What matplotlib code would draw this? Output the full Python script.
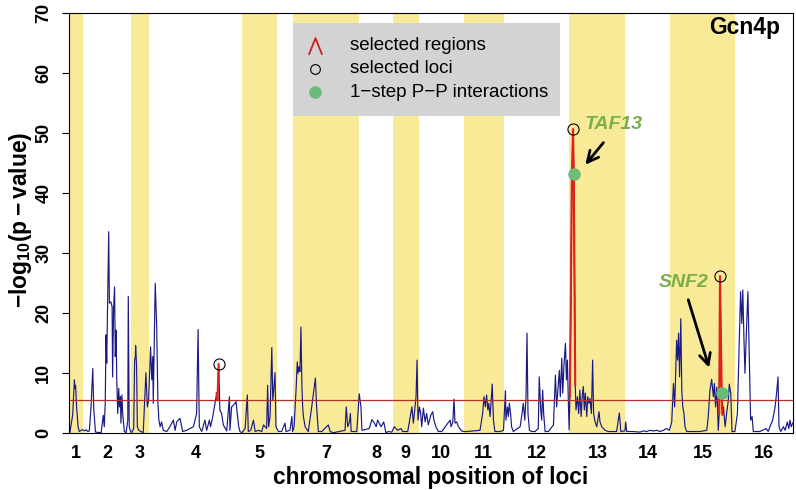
import matplotlib
matplotlib.use("Agg")
import matplotlib.pyplot as plt
from matplotlib.patches import Rectangle
import numpy as np

plt.rcParams['font.family'] = ['Liberation Sans', 'DejaVu Sans']
plt.rcParams['mathtext.fontset'] = 'custom'
plt.rcParams['mathtext.rm'] = 'Liberation Sans:bold'
plt.rcParams['mathtext.bf'] = 'Liberation Sans:bold'
plt.rcParams['mathtext.it'] = 'Liberation Sans:bold:italic'

# ---------------- data ----------------
chrom_ends = [57, 253, 327, 706, 849, 915, 1184, 1322, 1428, 1612, 1775, 2043, 2272, 2455, 2721, 2956]
chrom_labels = ['1', '2', '3', '4', '5', '', '7', '8', '9', '10', '11', '12', '13', '14', '15', '16']

chr1 = [(0, 0.2), (4, 0.1), (15, 3.0), (22, 8.8), (24, 7.4), (27, 7.9), (31, 4.3), (37, 1.0), (42, 0.2), (49, 0.4), (56, 0.5)]
chr2 = [(63, 0.3), (70, 0.5), (76, 0.2), (83, 0.3), (90, 4.3), (97, 10.7), (101, 4.0), (108, 0.1), (131, 0.0),
        (140, 2.9), (144, 1.0), (148, 5.0), (151, 16.3), (154, 11.6), (158, 22.7), (162, 33.5), (165, 21.6),
        (171, 21.8), (176, 21.0), (178, 9.3), (182, 20.7), (186, 24.3), (189, 12.7), (192, 17.1), (195, 8.8),
        (199, 3.2), (203, 7.4), (206, 4.3), (210, 6.0), (212, 1.6), (216, 6.3), (219, 3.2), (226, 0.2),
        (233, 0.0), (240, 2.1), (242, 22.7), (246, 1.0), (252, 0.1)]
chr3 = [(257, 0.1), (264, 0.7), (268, 12.1), (271, 12.7), (272, 14.5), (276, 11.0), (279, 1.0), (285, 0.4),
        (303, 0.0), (314, 10.0), (320, 4.3), (325, 5.4)]
chr4 = [(333, 14.3), (338, 8.8), (342, 12.7), (344, 4.9), (348, 15.4), (352, 24.9), (358, 17.7), (363, 4.9),
        (367, 2.1), (372, 1.0), (378, 1.8), (385, 0.4), (399, 0.2), (412, 1.0), (426, 2.1), (433, 0.4),
        (440, 1.8), (453, 2.4), (464, 0.2), (480, 0.4), (508, 1.0), (521, 3.2), (527, 17.2), (532, 1.0),
        (542, 0.2), (555, 2.1), (562, 0.4), (573, 2.1), (578, 1.0), (587, 2.7), (596, 4.9), (603, 6.6),
        (606, 5.4), (611, 11.4), (616, 3.8), (623, 3.2), (630, 1.3), (644, 0.3), (655, 6.0), (657, 0.4),
        (664, 4.3), (671, 4.6), (678, 4.9), (682, 5.2), (687, 3.2), (693, 1.0), (698, 0.2)]
chr5 = [(706, 0.0), (719, 0.7), (728, 6.3), (732, 0.2), (742, 0.4), (753, 2.1), (760, 0.2), (773, 0.4),
        (787, 0.2), (794, 1.3), (807, 0.7), (811, 7.9), (815, 1.0), (821, 2.7), (828, 14.2), (832, 5.4),
        (837, 7.7), (841, 10.0), (845, 1.0)]
chr6 = [(855, 0.2), (868, 0.2), (882, 1.6), (886, 0.2), (902, 0.4), (910, 2.7), (913, 0.2)]
chr7 = [(919, 1.0), (927, 7.1), (932, 11.8), (935, 9.9), (939, 11.0), (943, 10.2), (947, 17.6), (951, 7.7),
        (954, 4.3), (957, 2.7), (964, 1.0), (977, 0.2), (991, 4.3), (998, 6.6), (1006, 9.1), (1011, 4.3),
        (1018, 0.2), (1032, 0.2), (1059, 1.3), (1066, 0.2), (1079, 0.0), (1127, 0.4), (1132, 4.3),
        (1138, 1.0), (1145, 1.8), (1149, 3.2), (1152, 0.2), (1175, 0.2)]
chr8 = [(1185, 6.5), (1192, 4.3), (1196, 0.4), (1226, 0.7), (1237, 2.2), (1247, 1.6), (1254, 1.0),
        (1260, 2.1), (1274, 1.0), (1285, 1.8), (1294, 0.0), (1304, 0.2), (1318, 0.1)]
chr9 = [(1328, 1.0), (1342, 0.4), (1356, 0.7), (1362, 0.2), (1383, 0.2), (1400, 4.3), (1406, 1.6),
        (1417, 6.0), (1421, 12.1), (1425, 2.1)]
chr10 = [(1431, 4.3), (1436, 3.2), (1440, 1.0), (1447, 4.1), (1454, 1.8), (1460, 3.2), (1467, 1.3),
         (1477, 2.9), (1485, 3.5), (1490, 2.1), (1498, 1.0), (1508, 0.2), (1522, 0.2), (1556, 2.1),
         (1560, 1.0), (1567, 1.8), (1572, 5.6), (1576, 1.6), (1583, 1.8), (1590, 1.0), (1603, 0.3), (1610, 0.2)]
chr11 = [(1624, 0.2), (1678, 0.4), (1689, 3.2), (1694, 6.0), (1700, 4.3), (1705, 6.3), (1710, 3.8),
         (1714, 4.9), (1719, 2.7), (1724, 5.4), (1728, 8.1), (1733, 2.1), (1739, 0.2), (1760, 0.2), (1774, 0.4)]
chr12 = [(1782, 7.0), (1784, 2.1), (1790, 4.3), (1794, 2.7), (1798, 4.9), (1803, 3.2), (1807, 1.0),
         (1814, 0.2), (1842, 1.0), (1848, 2.7), (1855, 4.9), (1861, 2.1), (1866, 6.0), (1870, 16.6),
         (1874, 3.2), (1880, 0.4), (1889, 0.2), (1903, 0.2), (1916, 0.7), (1920, 9.3), (1926, 3.8),
         (1930, 2.1), (1934, 7.1), (1938, 3.2), (1944, 0.2), (1957, 0.2), (1978, 1.3), (1986, 9.6),
         (1991, 4.3), (1997, 7.7), (2002, 10.4), (2006, 6.0), (2012, 12.4), (2016, 6.6), (2021, 11.3),
         (2027, 14.9), (2031, 8.8), (2035, 12.1), (2039, 4.9), (2042, 0.5)]
chr13 = [(2045, 6.0), (2049, 22.0), (2053, 42.0), (2058, 50.6), (2061, 43.1), (2064, 25.0), (2067, 8.0),
         (2070, 3.8), (2076, 6.0), (2081, 3.2), (2086, 7.1), (2091, 2.7), (2096, 6.3), (2100, 7.7),
         (2104, 3.8), (2108, 6.6), (2114, 2.7), (2118, 6.0), (2123, 4.9), (2127, 5.7), (2133, 3.2),
         (2138, 12.1), (2142, 3.2), (2148, 1.8), (2155, 1.0), (2164, 3.5), (2168, 1.8), (2175, 1.0),
         (2189, 0.4), (2202, 0.2), (2236, 0.2), (2247, 3.3), (2253, 0.2), (2270, 0.3)]
chr14 = [(2273, 1.8), (2277, 0.2), (2304, 0.2), (2331, 0.1), (2345, 0.3), (2359, 0.2), (2372, 0.4),
         (2386, 0.3), (2400, 0.4), (2413, 0.2), (2427, 0.4), (2440, 0.7), (2451, 0.4)]
chr15 = [(2461, 1.8), (2468, 8.2), (2473, 4.3), (2477, 9.9), (2481, 15.4), (2485, 12.1), (2489, 16.6),
         (2493, 9.3), (2498, 19.0), (2502, 7.1), (2506, 4.3), (2511, 3.2), (2515, 1.0), (2522, 0.2),
         (2576, 0.2), (2604, 0.4), (2610, 2.7), (2617, 7.1), (2624, 8.9), (2631, 6.0), (2635, 8.2),
         (2640, 4.3), (2645, 7.6), (2651, 0.4), (2655, 3.3), (2658, 26.1), (2665, 6.7), (2668, 3.0),
         (2672, 4.3), (2679, 1.0), (2685, 3.2), (2692, 5.4), (2696, 8.1), (2702, 6.6), (2707, 0.2), (2719, 0.2)]
chr16 = [(2729, 3.2), (2737, 15.4), (2742, 23.5), (2747, 18.2), (2751, 23.8), (2756, 15.4), (2760, 9.9),
         (2767, 18.2), (2772, 23.5), (2778, 12.1), (2783, 2.1), (2789, 2.7), (2794, 0.2), (2821, 0.2),
         (2846, 0.7), (2855, 0.2), (2862, 1.0), (2873, 2.1), (2883, 4.3), (2889, 6.6), (2895, 9.3),
         (2899, 1.0), (2906, 0.2), (2917, 1.0), (2924, 0.4), (2933, 1.8), (2939, 0.7), (2944, 2.1),
         (2949, 1.0), (2955, 1.6)]

threshold = 5.4
selected_regions = [(602, 612), (2044, 2068), (2654, 2669)]
selected_loci_x = [611, 2058, 2658]
selected_loci_y = [11.4, 50.6, 26.1]
interaction_x = [2061, 2665]
interaction_y = [43.1, 6.7]
interaction_names = ['TAF13', 'SNF2']

# ---------------- plot ----------------
all_pts = chr1 + chr2 + chr3 + chr4 + chr5 + chr6 + chr7 + chr8 + chr9 + chr10 + chr11 + chr12 + chr13 + chr14 + chr15 + chr16
xs = np.array([p[0] for p in all_pts], dtype=float)
ys = np.array([p[1] for p in all_pts], dtype=float)

fig = plt.figure(figsize=(7.96, 4.90), dpi=100)
ax = fig.add_axes([0.0867, 0.1169, 0.9095, 0.8572])

starts = [0] + chrom_ends[:-1]
yellow = '#F9EA98'
for i, (s, e) in enumerate(zip(starts, chrom_ends)):
    if i % 2 == 0:
        ax.axvspan(s, e, color=yellow, lw=0, zorder=0)

ax.plot(xs, ys, color='#1a1a85', lw=0.85, zorder=2)
ax.axhline(threshold, color='#B3302A', lw=0.9, zorder=3)

for (a, b) in selected_regions:
    m = (xs >= a) & (xs <= b)
    ax.plot(xs[m], ys[m], color='#E0201A', lw=1.5, zorder=4)

ax.plot(selected_loci_x, selected_loci_y, 'o', ms=8, mfc='none', mec='black', mew=0.8, zorder=5)
ax.plot(interaction_x, interaction_y, 'o', ms=8, mfc='#6CBB7A', mec='#6CBB7A', zorder=6)

green_txt = '#78AE4E'
# annotations
ax.text(interaction_x[0] + 46, 51.4, interaction_names[0], color=green_txt, fontsize=14,
        fontweight='bold', style='italic', ha='left', va='center', zorder=7)
ax.annotate('', xy=(interaction_x[0] + 40, 44.3), xytext=(interaction_x[0] + 128, 48.7),
            arrowprops=dict(arrowstyle='->', color='black', lw=2.0, mutation_scale=20), zorder=7)
ax.text(interaction_x[1] - 154, 25.1, interaction_names[1], color=green_txt, fontsize=14,
        fontweight='bold', style='italic', ha='center', va='center', zorder=7)
ax.annotate('', xy=(interaction_x[1] - 48, 10.4), xytext=(interaction_x[1] - 140, 22.6),
            arrowprops=dict(arrowstyle='->', color='black', lw=2.0, mutation_scale=20), zorder=7)

ax.text(0.9825, 0.9655, 'Gcn4p', transform=ax.transAxes, ha='right', va='center',
        fontsize=16.5, fontweight='bold', zorder=7)

# legend box
ax.add_patch(Rectangle((0.309, 0.754), 0.369, 0.2215, transform=ax.transAxes,
                       facecolor='#D3D3D3', edgecolor='none', zorder=8))
rows = [0.9207, 0.866, 0.811]
caret = [(-0.8, -1.0), (0.0, 1.0), (0.8, -1.0)]
ax.plot([0.3398], [rows[0]], marker=caret, transform=ax.transAxes, ms=12, mfc='none',
        mec='#C8201A', mew=1.3, ls='none', zorder=9)
ax.plot([0.3398], [rows[1]], 'o', transform=ax.transAxes, ms=7, mfc='none', mec='black', mew=0.8, zorder=9)
ax.plot([0.3398], [rows[2]], 'o', transform=ax.transAxes, ms=8, mfc='#6CBB7A', mec='#6CBB7A', zorder=9)
for r, t in zip(rows, ['selected regions', 'selected loci', '1\u2212step P\u2212P interactions']):
    ax.text(0.388, r, t, transform=ax.transAxes, fontsize=13.5, ha='left', va='center', zorder=9)

ax.set_xlim(0, chrom_ends[-1])
ax.set_ylim(0, 70)

centers = [(s + e) / 2 for s, e in zip(starts, chrom_ends)]
ax.set_xticks(centers)
ax.set_xticklabels(chrom_labels, fontsize=13, fontweight='bold')
ax.tick_params(axis='x', length=0, pad=9)
ax.set_yticks(range(0, 80, 10))
ax.set_yticklabels([str(v) for v in range(0, 80, 10)], fontsize=13, fontweight='bold',
                   rotation=90, va='center')
ax.tick_params(axis='y', length=5, width=0.8, pad=7)
for sp in ax.spines.values():
    sp.set_linewidth(0.8)
    sp.set_zorder(10)

fig.text(0.541, 0.0245, 'chromosomal position of loci', ha='center', va='center',
         fontsize=16.3, fontweight='bold')
fig.text(0.026, 0.551, r'$-\mathrm{log}_{10}\mathrm{(p-value)}$', rotation=90, ha='center',
         va='center', fontsize=16.5)

fig.savefig('out.png', dpi=100)
